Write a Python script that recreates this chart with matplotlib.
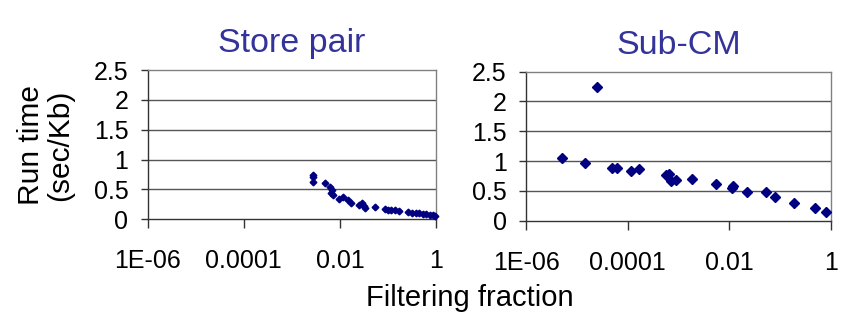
import matplotlib
matplotlib.use("Agg")
import matplotlib.pyplot as plt
import numpy as np

plt.rcParams['font.family'] = ['Liberation Sans', 'DejaVu Sans']

# Store pair: log10(filtering fraction), run time (sec/Kb)
store_logx = [-2.56, -2.56, -2.55, -2.31, -2.21, -2.17, -2.19, -2.14, -2.02, -1.93,
              -1.83, -1.76, -1.60, -1.55, -1.50, -1.48, -1.27, -1.07, -1.00, -0.93,
              -0.85, -0.78, -0.58, -0.50, -0.42, -0.35, -0.28, -0.20, -0.13, -0.07, -0.02]
store_y = [0.74, 0.70, 0.63, 0.60, 0.54, 0.49, 0.44, 0.40, 0.34, 0.37,
           0.32, 0.28, 0.24, 0.28, 0.22, 0.19, 0.21, 0.17, 0.16, 0.15,
           0.15, 0.14, 0.12, 0.11, 0.11, 0.10, 0.09, 0.09, 0.08, 0.07, 0.06]

# Sub-CM
subcm_logx = [-5.29, -4.83, -4.60, -4.30, -4.21, -3.94, -3.78, -3.25, -3.18, -3.15,
              -3.05, -2.73, -2.26, -1.95, -1.93, -1.64, -1.27, -1.09, -0.72, -0.31, -0.09]
subcm_y = [1.05, 0.97, 2.25, 0.89, 0.89, 0.83, 0.86, 0.77, 0.79, 0.67,
           0.69, 0.70, 0.62, 0.55, 0.59, 0.48, 0.48, 0.40, 0.30, 0.21, 0.15]

titles = ["Store pair", "Sub-CM"]
xticks = [1e-6, 1e-4, 1e-2, 1]
xticklabels = ["1E-06", "0.0001", "0.01", "1"]
yticks = [0, 0.5, 1, 1.5, 2, 2.5]
yticklabels = ["0", "0.5", "1", "1.5", "2", "2.5"]

fig = plt.figure(figsize=(8.46, 3.2), dpi=100)
W, H = 846, 320
boxes = [(147.7, 436.0, 219.3, 70.0), (526.0, 830.7, 220.7, 71.7)]
data = [(store_logx, store_y, 3.4), (subcm_logx, subcm_y, 5.5)]
navy = '#000080'

for (x0, x1, yb, yt), (lx, yv, ms), title in zip(boxes, data, titles):
    ax = fig.add_axes([x0 / W, 1 - yb / H, (x1 - x0) / W, (yb - yt) / H])
    ax.set_xscale('log')
    ax.set_xlim(1e-6, 1)
    ax.set_ylim(0, 2.5)
    for g in [0.5, 1, 1.5, 2]:
        ax.axhline(g, color='#555555', lw=1.0, zorder=1)
    ax.plot(10 ** np.array(lx), yv, linestyle='none', marker='D', ms=ms,
            color=navy, mec=navy, zorder=3, clip_on=False)
    ax.set_xticks(xticks)
    ax.set_xticklabels(xticklabels)
    ax.xaxis.set_minor_locator(matplotlib.ticker.NullLocator())
    ax.set_yticks(yticks)
    ax.set_yticklabels(yticklabels)
    ax.tick_params(axis='x', which='major', direction='out', length=6.5, width=1,
                   color='#333333', pad=15, labelsize=18)
    ax.tick_params(axis='y', which='major', direction='out', length=5, width=1,
                   color='#333333', pad=9, labelsize=18)
    for s in ['left', 'bottom']:
        ax.spines[s].set_color('#333333')
        ax.spines[s].set_linewidth(1.0)
    for s in ['top', 'right']:
        ax.spines[s].set_color('#808080')
        ax.spines[s].set_linewidth(1.0)
    ax.set_title(title, color='#333399', fontsize=24.5, pad=13)

fig.text(470 / W, 1 - 298 / H, "Filtering fraction", ha='center', va='center', fontsize=21)
fig.text(46 / W, 1 - 145 / H, "Run time\n(sec/Kb)", ha='center', va='center',
         rotation=90, fontsize=21.5, multialignment='center', linespacing=1.05)

fig.savefig("out.png", dpi=100)
